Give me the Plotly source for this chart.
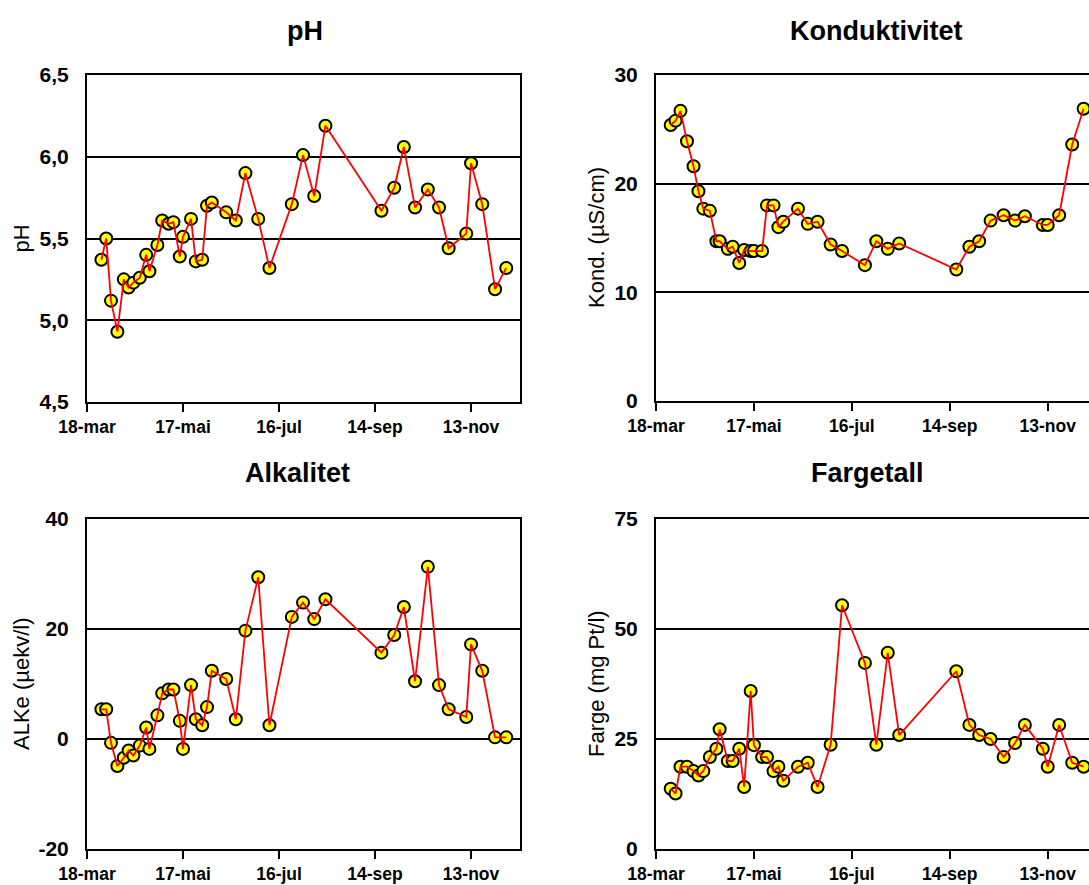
import plotly.graph_objects as go

# Sampling dates (same for all four parameters)
sample_dates = [
    "2001-03-27", "2001-03-30", "2001-04-02", "2001-04-06", "2001-04-10", "2001-04-13",
    "2001-04-16", "2001-04-20", "2001-04-24", "2001-04-26", "2001-05-01", "2001-05-04",
    "2001-05-08", "2001-05-11", "2001-05-15", "2001-05-17", "2001-05-22", "2001-05-25",
    "2001-05-29", "2001-06-01", "2001-06-04", "2001-06-13", "2001-06-19", "2001-06-25",
    "2001-07-03", "2001-07-10", "2001-07-24", "2001-07-31", "2001-08-07", "2001-08-14",
    "2001-09-18", "2001-09-26", "2001-10-02", "2001-10-09", "2001-10-17", "2001-10-24",
    "2001-10-30", "2001-11-10", "2001-11-13", "2001-11-20", "2001-11-28", "2001-12-05",
]

ph = [5.37, 5.50, 5.12, 4.93, 5.25, 5.20, 5.23, 5.26, 5.40, 5.30, 5.46, 5.61, 5.59, 5.60,
      5.39, 5.51, 5.62, 5.36, 5.37, 5.70, 5.72, 5.66, 5.61, 5.90, 5.62, 5.32, 5.71, 6.01,
      5.76, 6.19, 5.67, 5.81, 6.06, 5.69, 5.80, 5.69, 5.44, 5.53, 5.96, 5.71, 5.19, 5.32]

kond = [25.4, 25.8, 26.7, 23.9, 21.6, 19.3, 17.7, 17.5, 14.7, 14.7, 14.0, 14.2, 12.7, 13.9,
        13.8, 13.8, 13.8, 18.0, 18.0, 16.0, 16.5, 17.7, 16.3, 16.5, 14.4, 13.8, 12.5, 14.7,
        14.0, 14.5, 12.1, 14.2, 14.7, 16.6, 17.1, 16.6, 17.0, 16.2, 16.2, 17.1, 23.6, 26.9]

alk = [5.4, 5.4, -0.7, -4.9, -3.4, -2.1, -3.0, -1.2, 2.1, -1.8, 4.3, 8.3, 9.0, 9.0,
       3.3, -1.8, 9.8, 3.6, 2.5, 5.8, 12.4, 10.9, 3.6, 19.7, 29.4, 2.5, 22.2, 24.8,
       21.8, 25.4, 15.7, 18.9, 24.0, 10.5, 31.3, 9.8, 5.4, 4.0, 17.2, 12.4, 0.3, 0.3]

farge = [13.7, 12.6, 18.7, 18.7, 17.7, 16.7, 17.7, 20.9, 22.8, 27.2, 20.0, 20.0, 22.8, 14.1,
         35.9, 23.6, 20.9, 20.9, 17.7, 18.7, 15.5, 18.7, 19.6, 14.1, 23.7, 55.4, 42.3, 23.7,
         44.6, 25.9, 40.4, 28.2, 25.9, 25.0, 20.9, 24.1, 28.2, 22.8, 18.7, 28.2, 19.6, 18.7]

# Axis ticks
date_tick_vals = ["2001-03-18", "2001-05-17", "2001-07-16", "2001-09-14", "2001-11-13"]
date_tick_text = ["18-mar", "17-mai", "16-jul", "14-sep", "13-nov"]

ph_tick_vals = [4.5, 5.0, 5.5, 6.0, 6.5]
ph_tick_text = ["4,5", "5,0", "5,5", "6,0", "6,5"]
kond_tick_vals = [0, 10, 20, 30]
kond_tick_text = ["0", "10", "20", "30"]
alk_tick_vals = [-20, 0, 20, 40]
alk_tick_text = ["-20", "0", "20", "40"]
farge_tick_vals = [0, 25, 50, 75]
farge_tick_text = ["0", "25", "50", "75"]

W, H = 1089, 885
FONT = "Liberation Sans, Arial, sans-serif"

panels = [
    # title, y-title, values, y-range, tick vals, tick text, box (px), x-range end, title pos, ytitle x
    dict(title="pH", ytitle="pH", y=ph, yrange=[4.5, 6.5], tv=ph_tick_vals, tt=ph_tick_text,
         box=(87, 520, 75, 402), xend="2001-12-13 14:00", tpos=(305, 31), yt_x=21, right=False),
    dict(title="Konduktivitet", ytitle="Kond. (µS/cm)", y=kond, yrange=[0, 30], tv=kond_tick_vals,
         tt=kond_tick_text, box=(656, 1089, 75, 401), xend="2001-12-08 07:00", tpos=(876, 31),
         yt_x=596, right=True),
    dict(title="Alkalitet", ytitle="ALKe (µekv/l)", y=alk, yrange=[-20, 40], tv=alk_tick_vals,
         tt=alk_tick_text, box=(87, 520, 519, 849), xend="2001-12-13 14:00", tpos=(297, 473),
         yt_x=21, right=False),
    dict(title="Fargetall", ytitle="Farge (mg Pt/l)", y=farge, yrange=[0, 75], tv=farge_tick_vals,
         tt=farge_tick_text, box=(656, 1089, 519, 849), xend="2001-12-08 07:00", tpos=(867, 473),
         yt_x=596, right=True),
]

fig = go.Figure()
layout = dict(
    width=W, height=H,
    margin=dict(l=0, r=0, t=0, b=0),
    paper_bgcolor="white", plot_bgcolor="white",
    showlegend=False,
    template="none",
    annotations=[],
)

for i, p in enumerate(panels, start=1):
    xa = "x" if i == 1 else f"x{i}"
    ya = "y" if i == 1 else f"y{i}"
    # markers first, the red connecting line is drawn over them
    fig.add_trace(go.Scatter(
        x=sample_dates, y=p["y"], xaxis=xa, yaxis=ya, mode="markers",
        marker=dict(size=12, color="#FFFF00", line=dict(color="black", width=2)),
        hoverinfo="x+y",
    ))
    fig.add_trace(go.Scatter(
        x=sample_dates, y=p["y"], xaxis=xa, yaxis=ya, mode="lines",
        line=dict(color="#FF0000", width=1.8),
        hoverinfo="skip",
    ))

    x0, x1, y0, y1 = p["box"]
    xkey = "xaxis" if i == 1 else f"xaxis{i}"
    ykey = "yaxis" if i == 1 else f"yaxis{i}"
    layout[xkey] = dict(
        domain=[x0 / W, x1 / W], anchor=ya, type="date",
        range=["2001-03-18", p["xend"]],
        tickvals=date_tick_vals, ticktext=date_tick_text,
        ticks="outside", ticklen=8, tickwidth=2, tickcolor="black",
        showline=True, linewidth=2, linecolor="black", mirror=True,
        showgrid=False, zeroline=False, automargin=False,
        tickfont=dict(family=FONT, size=17.5, color="black", weight="bold"),
    )
    layout[ykey] = dict(
        domain=[1 - y1 / H, 1 - y0 / H], anchor=xa,
        range=p["yrange"], tickvals=p["tv"], ticktext=p["tt"],
        ticks="", ticklabelstandoff=12,
        showline=True, linewidth=2, linecolor="black", mirror=not p["right"],
        showgrid=True, gridcolor="black", gridwidth=2,
        zeroline=False, automargin=False,
        tickfont=dict(family=FONT, size=21, color="black", weight="bold"),
    )
    layout["annotations"].append(dict(
        text=p["title"], x=p["tpos"][0] / W, y=1 - p["tpos"][1] / H,
        xref="paper", yref="paper", xanchor="center", yanchor="middle", showarrow=False,
        font=dict(family=FONT, size=27, color="black", weight="bold"),
    ))
    layout["annotations"].append(dict(
        text=p["ytitle"], x=p["yt_x"] / W, y=1 - (y0 + y1) / 2 / H,
        xref="paper", yref="paper", xanchor="center", yanchor="middle", showarrow=False,
        textangle=-90,
        font=dict(family=FONT, size=22, color="black"),
    ))

fig.update_layout(**layout)
fig.write_html("out.html")
